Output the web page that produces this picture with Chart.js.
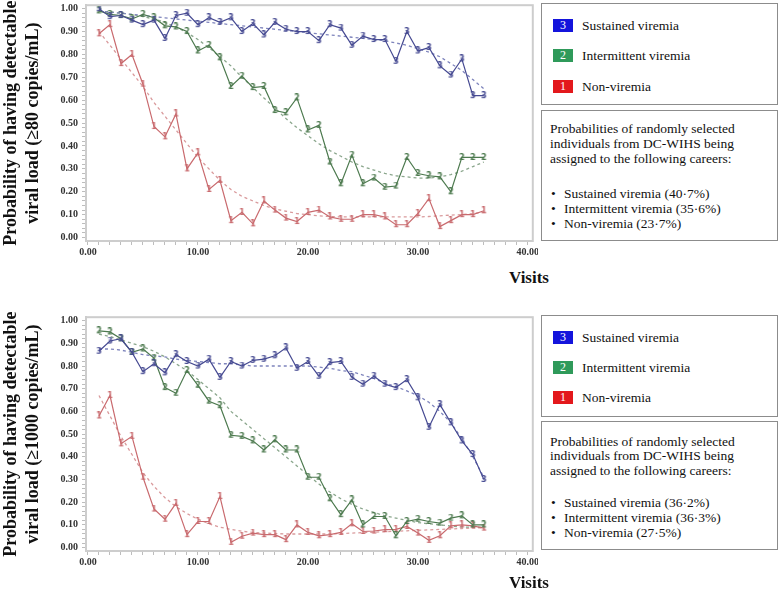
<!DOCTYPE html>
<html><head><meta charset="utf-8">
<script src="https://cdn.jsdelivr.net/npm/chart.js@4.4.0/dist/chart.umd.min.js"></script>
<style>
body{margin:0;background:#fff;width:778px;height:591px;position:relative;overflow:hidden;font-family:"Liberation Serif","Times New Roman",Times,serif;}
canvas{position:absolute;left:0;}
.box{position:absolute;left:541px;width:237px;border:1px solid #8c8c8c;background:#fff;box-sizing:border-box;color:#111;font-size:13.5px;}
.it{position:absolute;left:40px;line-height:15px;white-space:nowrap;}
.sq{position:absolute;left:11px;width:20px;height:13px;color:#fff;font-size:12px;line-height:13px;text-align:center;}
.tx{position:absolute;left:8px;line-height:15px;white-space:nowrap;}
.bl{position:absolute;left:9px;line-height:15px;white-space:nowrap;}
.bl span{position:absolute;left:13px;}
.vis{position:absolute;font-weight:bold;font-size:17px;color:#111;transform:translate(-50%,-50%);}
</style></head>
<body>
<canvas id="c1" width="538" height="265" style="top:0"></canvas>
<canvas id="c2" width="538" height="263" style="top:312px"></canvas>
<div class="vis" style="left:529px;top:278px">Visits</div>
<div class="vis" style="left:529px;top:583px">Visits</div>

<div class="box" style="top:3px;height:102px">
 <div class="sq" style="top:15px;background:#1414dc">3</div><div class="it" style="top:14px">Sustained viremia</div>
 <div class="sq" style="top:45px;background:#2f9a5a">2</div><div class="it" style="top:44px">Intermittent viremia</div>
 <div class="sq" style="top:76px;background:#e3181c">1</div><div class="it" style="top:75px">Non-viremia</div>
</div>
<div class="box" style="top:110px;height:131px">
 <div class="tx" style="top:10px">Probabilities of randomly selected</div>
 <div class="tx" style="top:25px">individuals from DC-WIHS being</div>
 <div class="tx" style="top:40px">assigned to the following careers:</div>
 <div class="bl" style="top:75px">•<span>Sustained viremia (40·7%)</span></div>
 <div class="bl" style="top:90px">•<span>Intermittent viremia (35·6%)</span></div>
 <div class="bl" style="top:105px">•<span>Non-viremia (23·7%)</span></div>
</div>

<div class="box" style="top:315px;height:102px">
 <div class="sq" style="top:15px;background:#1414dc">3</div><div class="it" style="top:14px">Sustained viremia</div>
 <div class="sq" style="top:45px;background:#2f9a5a">2</div><div class="it" style="top:44px">Intermittent viremia</div>
 <div class="sq" style="top:75px;background:#e3181c">1</div><div class="it" style="top:74px">Non-viremia</div>
</div>
<div class="box" style="top:421px;height:129px">
 <div class="tx" style="top:12px">Probabilities of randomly selected</div>
 <div class="tx" style="top:26px">individuals from DC-WIHS being</div>
 <div class="tx" style="top:41px">assigned to the following careers:</div>
 <div class="bl" style="top:73px">•<span>Sustained viremia (36·2%)</span></div>
 <div class="bl" style="top:88px">•<span>Intermittent viremia (36·3%)</span></div>
 <div class="bl" style="top:103px">•<span>Non-viremia (27·5%)</span></div>
</div>

<script>
const visits = [1,2,3,4,5,6,7,8,9,10,11,12,13,14,15,16,17,18,19,20,21,22,23,24,25,26,27,28,29,30,31,32,33,34,35,36];
const xTicks = [0,10,20,30,40];
const yTicks = [0,0.1,0.2,0.3,0.4,0.5,0.6,0.7,0.8,0.9,1.0];

// Panel 1: viral load >= 80 copies/mL (observed)
const topSustained = [1.00,0.965,0.97,0.95,0.93,0.95,0.87,0.97,0.98,0.93,0.96,0.94,0.96,0.90,0.935,0.885,0.94,0.91,0.90,0.90,0.86,0.93,0.915,0.84,0.88,0.865,0.865,0.77,0.90,0.815,0.83,0.75,0.71,0.78,0.62,0.62];
const topIntermittent = [0.99,0.975,0.97,0.955,0.975,0.96,0.925,0.92,0.90,0.815,0.84,0.785,0.66,0.705,0.655,0.66,0.555,0.545,0.61,0.47,0.49,0.33,0.235,0.36,0.235,0.26,0.22,0.225,0.35,0.28,0.27,0.265,0.20,0.35,0.35,0.35];
const topNon = [0.89,0.93,0.76,0.80,0.67,0.485,0.44,0.54,0.30,0.37,0.21,0.25,0.074,0.11,0.06,0.16,0.12,0.085,0.07,0.11,0.12,0.09,0.08,0.08,0.10,0.10,0.09,0.056,0.056,0.105,0.17,0.048,0.074,0.10,0.10,0.117];
// Panel 1: fitted
const topSustainedFit = [0.99,0.985,0.98,0.975,0.97,0.965,0.96,0.955,0.95,0.945,0.94,0.935,0.93,0.925,0.92,0.915,0.91,0.905,0.90,0.895,0.89,0.885,0.88,0.875,0.87,0.865,0.86,0.85,0.84,0.825,0.81,0.79,0.76,0.73,0.69,0.65];
const topIntermittentFit = [0.99,0.985,0.98,0.975,0.965,0.955,0.94,0.92,0.895,0.865,0.83,0.79,0.75,0.70,0.655,0.61,0.565,0.52,0.48,0.445,0.41,0.38,0.355,0.33,0.31,0.295,0.28,0.27,0.265,0.26,0.26,0.265,0.275,0.29,0.31,0.33];
const topNonFit = [0.90,0.84,0.78,0.72,0.66,0.59,0.53,0.47,0.41,0.35,0.30,0.25,0.21,0.18,0.16,0.14,0.125,0.115,0.105,0.10,0.095,0.092,0.09,0.09,0.09,0.09,0.09,0.09,0.09,0.09,0.092,0.095,0.098,0.10,0.105,0.11];

// Panel 2: viral load >= 1000 copies/mL (observed)
const botSustained = [0.865,0.91,0.92,0.86,0.775,0.81,0.77,0.85,0.82,0.80,0.83,0.75,0.82,0.80,0.825,0.83,0.845,0.88,0.79,0.82,0.755,0.815,0.82,0.75,0.72,0.755,0.72,0.705,0.74,0.66,0.53,0.63,0.55,0.47,0.41,0.30];
const botIntermittent = [0.955,0.95,0.92,0.86,0.875,0.835,0.705,0.68,0.78,0.715,0.645,0.625,0.495,0.49,0.47,0.43,0.475,0.43,0.43,0.31,0.31,0.215,0.145,0.21,0.10,0.137,0.137,0.052,0.115,0.125,0.115,0.108,0.13,0.14,0.10,0.10];
const botNon = [0.58,0.67,0.457,0.49,0.31,0.17,0.125,0.195,0.057,0.115,0.115,0.225,0.023,0.05,0.064,0.057,0.057,0.035,0.10,0.067,0.052,0.057,0.067,0.105,0.071,0.073,0.079,0.08,0.093,0.064,0.032,0.052,0.096,0.10,0.096,0.086];
// Panel 2: fitted
const botSustainedFit = [0.875,0.875,0.87,0.86,0.85,0.845,0.84,0.83,0.825,0.82,0.815,0.81,0.81,0.805,0.80,0.80,0.80,0.80,0.80,0.80,0.795,0.79,0.78,0.775,0.76,0.745,0.725,0.71,0.69,0.67,0.64,0.60,0.55,0.48,0.40,0.31];
const botIntermittentFit = [0.94,0.93,0.915,0.90,0.885,0.865,0.84,0.81,0.78,0.74,0.70,0.66,0.60,0.56,0.52,0.48,0.44,0.40,0.36,0.32,0.28,0.245,0.215,0.19,0.17,0.155,0.14,0.13,0.12,0.11,0.105,0.10,0.095,0.09,0.09,0.09];
const botNonFit = [0.67,0.58,0.49,0.41,0.33,0.27,0.22,0.18,0.15,0.125,0.105,0.09,0.08,0.072,0.067,0.064,0.062,0.06,0.06,0.06,0.06,0.06,0.062,0.064,0.066,0.068,0.07,0.072,0.074,0.076,0.078,0.08,0.082,0.084,0.086,0.088];

const COL = {s:'#464a92', i:'#4d7a4f', n:'#c96a6e'};
const FIT = {s:'#7e84bc', i:'#8aa68c', n:'#d99a9c'};

function digitMarker(d, color){
  const c = document.createElement('canvas'); c.width = 7; c.height = 9;
  const g = c.getContext('2d'); g.fillStyle = color;
  g.font = 'bold 8px "DejaVu Sans"'; g.textAlign = 'center'; g.textBaseline = 'middle';
  g.fillText(d, 3.5, 5); return c;
}
const pts = arr => visits.map((v,k)=>({x:v,y:arr[k]}));

const frame = {id:'frame', afterDraw(ch){
  const a = ch.chartArea, g = ch.ctx; g.save(); g.strokeStyle = '#cdcdcd'; g.lineWidth = 2;
  g.strokeRect(a.left, a.top, a.right - a.left, a.bottom - a.top); g.restore(); }};

function makeChart(id, obs, fit, titleLines){
  const ds = [];
  [['s','3'],['i','2'],['n','1']].forEach(([k],j)=>{
    ds.push({data:pts(fit[j]), borderColor:FIT[k], borderWidth:1.3, borderDash:[3,3], pointRadius:0, fill:false, tension:0, order:2});
  });
  [['s','3'],['i','2'],['n','1']].forEach(([k,d],j)=>{
    ds.push({data:pts(obs[j]), borderColor:COL[k], borderWidth:1.2, pointStyle:digitMarker(d,COL[k]), pointRadius:3, fill:false, tension:0, order:1});
  });
  const tickFont = {family:'"Liberation Serif"', size:10, weight:'bold'};
  new Chart(document.getElementById(id), {
    type:'line', data:{datasets:ds}, plugins:[frame],
    options:{responsive:false, animation:false, devicePixelRatio:1,
      layout:{padding:{top:3,right:1,left:0,bottom:0}},
      plugins:{legend:{display:false}, tooltip:{enabled:false}},
      scales:{
        x:{type:'linear', min:-0.18, max:40.45,
          afterBuildTicks:s=>{const t=[]; for(let v=0; v<=40; v++) t.push({value:v}); s.ticks=t;},
          afterFit:s=>{s.height=24; s.paddingLeft=0; s.paddingRight=0;},
          ticks:{font:tickFont, color:'#333', padding:1, maxRotation:0, autoSkip:false,
            callback:v=> xTicks.includes(v) ? v.toFixed(2) : ''},
          grid:{drawOnChartArea:false, drawTicks:true, tickLength:4, color:'#bdbdbd'},
          border:{display:true, color:'#cdcdcd', width:2}},
        y:{type:'linear', min:-0.015, max:1.015,
          afterBuildTicks:s=>{const t=[]; for(let k=0;k<=50;k++) t.push({value:k/50}); s.ticks=t;},
          afterFit:s=>{s.width=86; s.paddingTop=0; s.paddingBottom=0;},
          ticks:{font:tickFont, color:'#333', padding:4, autoSkip:false,
            callback:v=>{const m = yTicks.find(t=>Math.abs(t-v)<1e-6); return m===undefined ? '' : m.toFixed(2);}},
          grid:{drawOnChartArea:false, drawTicks:true, tickLength:4, color:'#bdbdbd'},
          border:{display:true, color:'#cdcdcd', width:2},
          title:{display:true, text:titleLines, color:'#111', padding:{top:1,bottom:0},
            font:{family:'"Liberation Serif"', size:18, weight:'bold', lineHeight:1.2}}}
      }}
  });
}

makeChart('c1', [topSustained, topIntermittent, topNon], [topSustainedFit, topIntermittentFit, topNonFit],
  ['Probability of having detectable','viral load (≥80 copies/mL)']);
makeChart('c2', [botSustained, botIntermittent, botNon], [botSustainedFit, botIntermittentFit, botNonFit],
  ['Probability of having detectable','viral load (≥1000 copies/mL)']);
</script>
</body></html>
